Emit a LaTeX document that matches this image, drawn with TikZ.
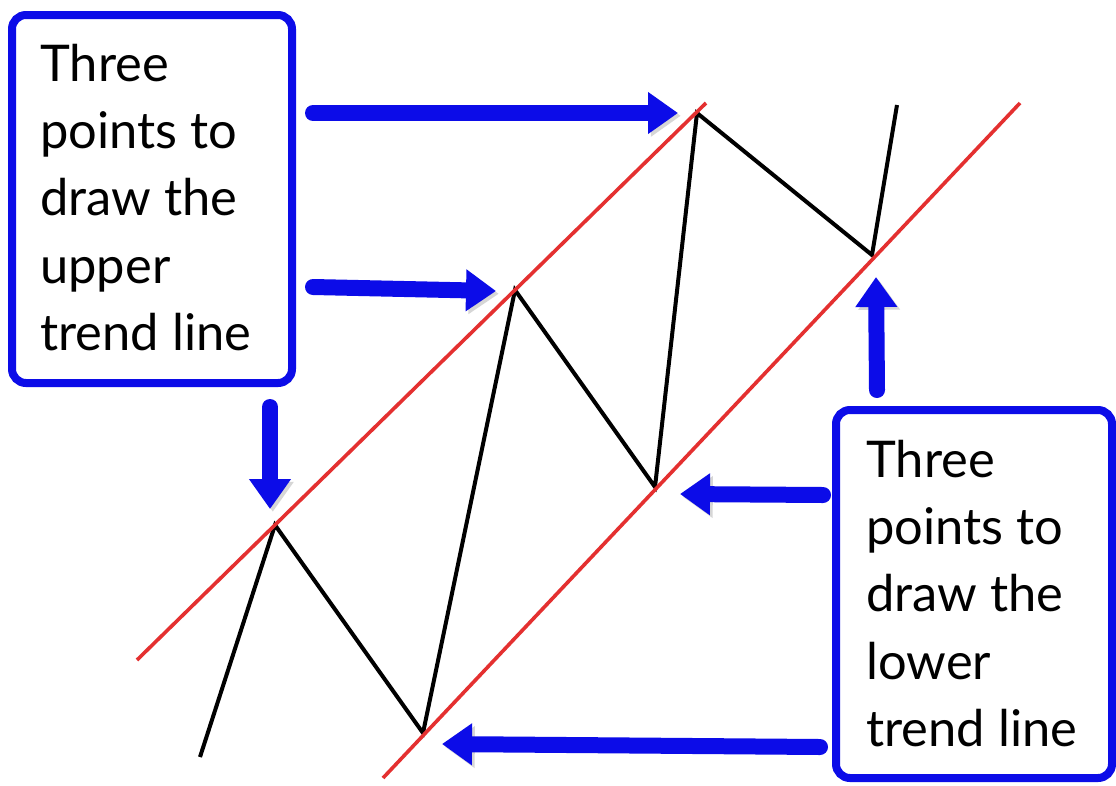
\documentclass[tikz,border=0pt]{standalone}
\usepackage{fontspec}
\setmainfont{Lato}
\usetikzlibrary{arrows.meta}
\definecolor{tblue}{RGB}{12,12,232}
\definecolor{tred}{RGB}{228,48,48}
\begin{document}
\begin{tikzpicture}[x=0.25mm,y=-0.25mm,
  shad/.style={preaction={draw=black!45,opacity=.35,transform canvas={shift={(0.7mm,-0.7mm)}}}},
  box/.style={draw=tblue,line width=2mm,rounded corners=3.5mm,fill=white,shad},
  pointer/.style={draw=tblue,line width=4mm,line cap=round,-{Triangle[length=7.5mm,width=10mm]},shad},
  trend/.style={draw=tred,line width=0.9mm},
  price/.style={draw=black,line width=1mm,line join=miter},
  label/.style={font=\fontsize{36}{47.8}\selectfont,align=left,anchor=north west,inner sep=0pt}]
\useasboundingbox[fill=white] (0,0) rectangle (1116,785);

% price zigzag
\coordinate (p0) at (200,757);
\coordinate (h1) at (275,525);
\coordinate (l1) at (423,733);
\coordinate (h2) at (515,290);
\coordinate (l2) at (655,487);
\coordinate (h3) at (697,113);
\coordinate (l3) at (872,255);
\coordinate (p7) at (897,105);
\draw[price] (p0) -- (h1) -- (l1) -- (h2) -- (l2) -- (h3) -- (l3) -- (p7);

% trend lines
\coordinate (u0) at (137,660);
\coordinate (u1) at (706,103);
\coordinate (d0) at (383,778);
\coordinate (d1) at (1020,103);
\draw[trend] (u0) -- (u1);
\draw[trend] (d0) -- (d1);

% boxes
\draw[box] (12,15) rectangle (292,383);
\node[label] (upper) at (40,44) {Three\\points to\\draw the\\upper\\trend line};
\draw[box] (836,410) rectangle (1112,778);
\node[label] (lower) at (866,440) {Three\\points to\\draw the\\lower\\trend line};

% pointer arrows
\coordinate (a1s) at (313,113);  \coordinate (a1e) at (678,113);
\coordinate (a2s) at (313,287);  \coordinate (a2e) at (496,291);
\coordinate (a3s) at (270,407);  \coordinate (a3e) at (270,509);
\coordinate (a4s) at (823,495);  \coordinate (a4e) at (680,494);
\coordinate (a5s) at (820,747);  \coordinate (a5e) at (442,744);
\coordinate (a6s) at (877,390);  \coordinate (a6e) at (876,277);
\draw[pointer] (a1s) -- (a1e);
\draw[pointer] (a2s) -- (a2e);
\draw[pointer] (a3s) -- (a3e);
\draw[pointer] (a4s) -- (a4e);
\draw[pointer] (a5s) -- (a5e);
\draw[pointer] (a6s) -- (a6e);
\end{tikzpicture}
\end{document}
